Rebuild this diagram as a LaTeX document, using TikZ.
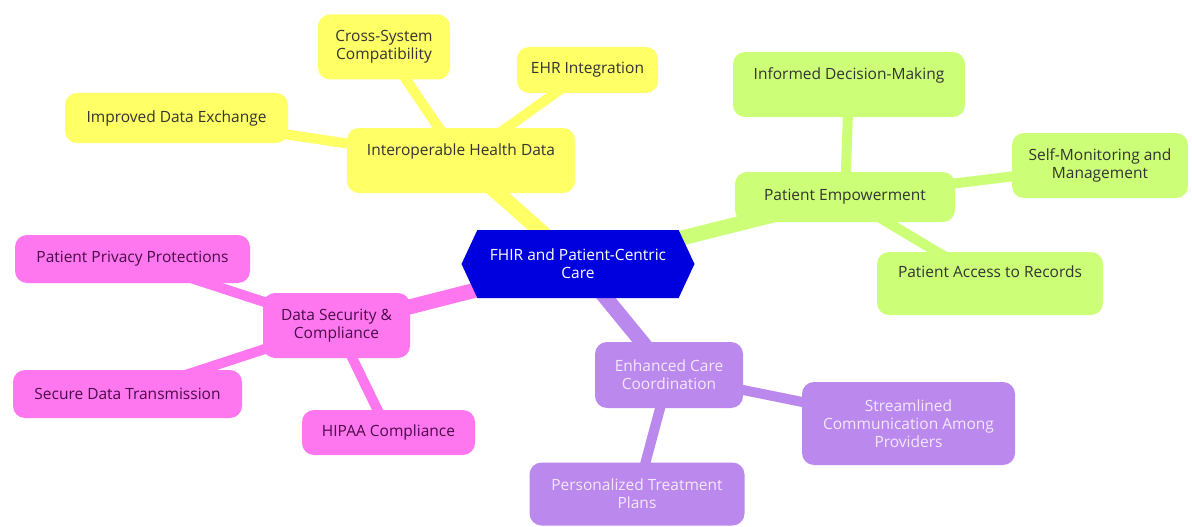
\documentclass[tikz,border=0pt]{standalone}
\usepackage{fontspec}
\setmainfont{Open Sans}
\usetikzlibrary{shapes.symbols,backgrounds}
\definecolor{hubc}{RGB}{0,0,222}
\definecolor{yel}{RGB}{255,255,102}
\definecolor{grn}{RGB}{204,255,119}
\definecolor{pur}{RGB}{187,136,238}
\definecolor{pnk}{RGB}{255,119,238}
\definecolor{ink}{RGB}{51,51,51}
\definecolor{pnkink}{RGB}{74,10,74}
\definecolor{purink}{RGB}{243,232,255}

\begin{document}
\begin{tikzpicture}[x=1pt,y=-1pt,
  every node/.style={font=\fontsize{15.5}{18}\selectfont,align=center},
  hub/.style={signal,signal to=west and east,signal pointer angle=130,
              fill=hubc,text=white,minimum width=233pt,minimum height=68pt,inner sep=2pt},
  box/.style={rectangle,rounded corners=12pt,inner sep=2pt},
  ybox/.style={box,fill=yel,text=ink},
  gbox/.style={box,fill=grn,text=ink},
  pbox/.style={box,fill=pur,text=purink},
  mbox/.style={box,fill=pnk,text=pnkink},
  lift/.style={text depth=#1},
  trunk/.style={line width=15pt,draw=#1},
  twig/.style={line width=10pt,draw=#1}]

  \useasboundingbox (0,0) rectangle (1192,527);

  \node[hub] (Nhub) at (578,264) {FHIR and Patient-Centric\\Care};

  % interoperability
  \node[ybox,minimum width=228pt,minimum height=65pt,lift=21pt] (Nihd) at (461,160.5) {Interoperable Health Data};
  \node[ybox,minimum width=223pt,minimum height=50pt] (Nide) at (176.5,118) {Improved Data Exchange};
  \node[ybox,minimum width=132pt,minimum height=65pt] (Ncsc) at (384,47) {Cross-System\\Compatibility};
  \node[ybox,minimum width=141pt,minimum height=46pt] (Nehr) at (587.5,70) {EHR Integration};

  % empowerment
  \node[gbox,minimum width=220pt,minimum height=50pt] (Npe)  at (845,197) {Patient Empowerment};
  \node[gbox,minimum width=232pt,minimum height=65pt,lift=22.5pt] (Nidm) at (849,84.5) {Informed Decision-Making};
  \node[gbox,minimum width=176pt,minimum height=65pt] (Nsmm) at (1100,165.5) {Self-Monitoring and\\Management};
  \node[gbox,minimum width=226pt,minimum height=63pt,lift=24.5pt] (Npar) at (990,283.5) {Patient Access to Records};

  % care coordination
  \node[pbox,minimum width=148pt,minimum height=66pt] (Necc) at (669,375) {Enhanced Care\\Coordination};
  \node[pbox,minimum width=213pt,minimum height=83pt] (Nscp) at (908.5,423.5) {Streamlined\\Communication Among\\Providers};
  \node[pbox,minimum width=215pt,minimum height=63pt] (Nptp) at (637,494) {Personalized Treatment\\Plans};

  % security
  \node[mbox,minimum width=147pt,minimum height=65pt] (Ndsc) at (336.5,325.5) {Data Security \&\\Compliance};
  \node[mbox,minimum width=235pt,minimum height=48pt] (Nppp) at (132.5,259) {Patient Privacy Protections};
  \node[mbox,minimum width=229pt,minimum height=48pt] (Nsdt) at (127.5,394) {Secure Data Transmission};
  \node[mbox,minimum width=173pt,minimum height=45pt] (Nhip) at (388.5,432.5) {HIPAA Compliance};

  \begin{scope}[on background layer]
    \draw[trunk=yel] (Nhub.center)--(Nihd.center);
    \draw[trunk=grn] (Nhub.center)--(Npe.center);
    \draw[trunk=pur] (Nhub.center)--(Necc.center);
    \draw[trunk=pnk] (Nhub.center)--(Ndsc.center);
    \draw[twig=yel] (Nihd.center)--(Nide.center); \draw[twig=yel] (Nihd.center)--(Ncsc.center);
    \draw[twig=yel] (Nihd.center)--(Nehr.center);
    \draw[twig=grn] (Npe.center)--(Nidm.center); \draw[twig=grn] (Npe.center)--(Nsmm.center);
    \draw[twig=grn] (Npe.center)--(Npar.center);
    \draw[twig=pur] (Necc.center)--(Nscp.center); \draw[twig=pur] (Necc.center)--(Nptp.center);
    \draw[twig=pnk] (Ndsc.center)--(Nppp.center); \draw[twig=pnk] (Ndsc.center)--(Nsdt.center);
    \draw[twig=pnk] (Ndsc.center)--(Nhip.center);
  \end{scope}
\end{tikzpicture}
\end{document}
